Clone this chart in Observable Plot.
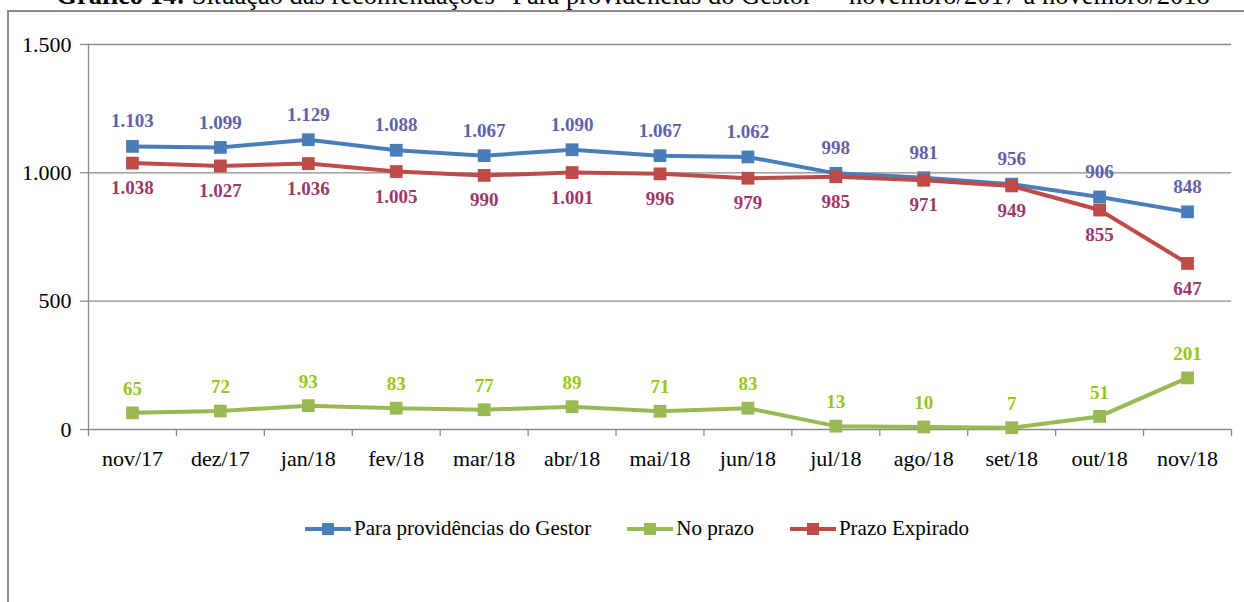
<!DOCTYPE html>
<html>
<head>
<meta charset="utf-8">
<script src="https://cdn.jsdelivr.net/npm/d3@7"></script>
<script src="https://cdn.jsdelivr.net/npm/@observablehq/plot@0.6"></script>
<style>
  html, body { margin: 0; padding: 0; background: #fff; overflow: hidden; }
  #wrap { position: relative; width: 1244px; height: 602px; font-family: "Liberation Serif", serif; }
  #title { position: absolute; top: -18px; left: 0; width: 1266px; text-align: center; font-size: 26.5px; line-height: 26px; white-space: nowrap; color: #000; }
  #frame { position: absolute; left: 7px; top: 10px; width: 1300px; height: 700px; border-left: 2px solid #8c8c8c; border-top: 2px solid #8c8c8c; }
  #chart { position: absolute; left: 0; top: 0; }
  #legend { position: absolute; top: 516px; left: 305px; display: flex; align-items: center; font-size: 21px; color: #000; white-space: nowrap; }
  .item { display: flex; align-items: center; margin-right: 36px; }
  .item svg { margin-right: 3px; }
</style>
</head>
<body>
<div id="wrap">
  <div id="frame"></div>
  <div id="title"><b>Gráfico 14:</b> Situação das recomendações "Para providências do Gestor" – novembro/2017 a novembro/2018</div>
  <div id="chart"></div>
  <div id="legend"></div>
</div>
<script>
const months = ["nov/17","dez/17","jan/18","fev/18","mar/18","abr/18","mai/18","jun/18","jul/18","ago/18","set/18","out/18","nov/18"];
const gestor   = [1103,1099,1129,1088,1067,1090,1067,1062,998,981,956,906,848];
const noPrazo  = [65,72,93,83,77,89,71,83,13,10,7,51,201];
const expirado = [1038,1027,1036,1005,990,1001,996,979,985,971,949,855,647];
const yTicks = [0,500,1000,1500];

const seriesNames = ["Para providências do Gestor","No prazo","Prazo Expirado"];
const seriesValues = [gestor, noPrazo, expirado];
const lineColors = ["#4A7EBB","#98B954","#BE4B48"];
const labelColors = ["#5F62A6","#94C81A","#9E376A"];
const labelDy = [-25, -24, 25];

const fmt = v => d3.format(",")(v).replace(/,/g, ".");

const marks = [
  Plot.ruleY([500,1000,1500], {stroke:"#8a8a8a", strokeWidth:1.3}),
  Plot.ruleY([0], {stroke:"#8a8a8a", strokeWidth:1.3}),
  Plot.frame({anchor:"left", stroke:"#8a8a8a", strokeWidth:1.3}),
  Plot.axisY({ticks: yTicks, tickFormat: fmt, tickSize: 8, tickPadding: 9, fontSize: 22, stroke:"#8a8a8a", fill:"#000", strokeWidth:1.3, label: null}),
  Plot.axisX({ticks: d3.range(-0.5, months.length, 1), tickFormat: () => "", tickSize: 7, stroke:"#8a8a8a", strokeWidth:1.3, label: null}),
  Plot.axisX({ticks: d3.range(months.length), tickFormat: i => months[i], tickSize: 0, tickPadding: 21, fontSize: 22, fill:"#000", label: null})
];

seriesValues.forEach((vals, s) => {
  const rows = vals.map((v, i) => ({i, v}));
  marks.push(Plot.line(rows, {x:"i", y:"v", stroke: lineColors[s], strokeWidth: 4}));
  marks.push(Plot.dot(rows, {x:"i", y:"v", symbol:"square", r: 7.2, fill: lineColors[s]}));
});
seriesValues.forEach((vals, s) => {
  const rows = vals.map((v, i) => ({i, v}));
  marks.push(Plot.text(rows, {x:"i", y:"v", text: d => fmt(d.v), dy: labelDy[s], fill: labelColors[s], fontSize: 19, fontWeight: "bold"}));
});

const chart = Plot.plot({
  width: 1244, height: 480,
  marginTop: 44, marginBottom: 51, marginLeft: 88, marginRight: 13,
  x: {type: "linear", domain: [-0.5, months.length - 0.5], label: null},
  y: {domain: [0, 1500], label: null},
  style: {fontFamily: "Liberation Serif", background: "transparent", overflow: "visible"},
  marks
});
document.getElementById("chart").appendChild(chart);

const legend = document.getElementById("legend");
seriesNames.forEach((name, s) => {
  const item = document.createElement("div");
  item.className = "item";
  item.innerHTML = `<svg width="46" height="16"><line x1="0" x2="46" y1="8" y2="8" stroke="${lineColors[s]}" stroke-width="4"/><rect x="17" y="2" width="12" height="12" fill="${lineColors[s]}"/></svg><span>${name}</span>`;
  legend.appendChild(item);
});
</script>
</body>
</html>
